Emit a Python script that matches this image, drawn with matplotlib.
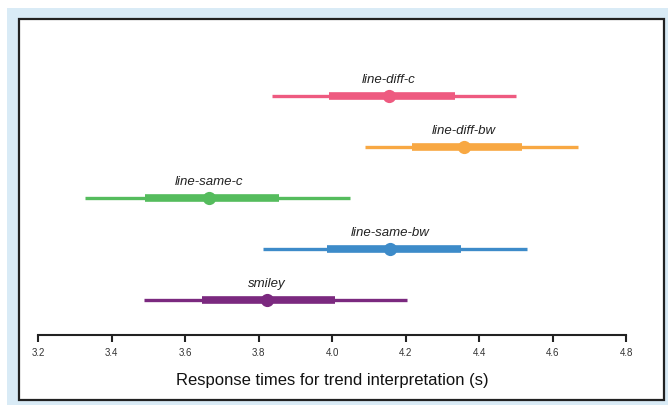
import matplotlib
matplotlib.use("Agg")
import matplotlib.pyplot as plt
from matplotlib.patches import Rectangle

plt.rcParams["font.family"] = ["Liberation Sans", "DejaVu Sans"]

conditions = ["smiley", "line-same-bw", "line-same-c", "line-diff-bw", "line-diff-c"]
means = [3.822, 4.158, 3.666, 4.358, 4.155]
inner_lo = [3.646, 3.986, 3.491, 4.217, 3.992]
inner_hi = [4.008, 4.350, 3.857, 4.516, 4.335]
outer_lo = [3.488, 3.813, 3.328, 4.089, 3.837]
outer_hi = [4.203, 4.531, 4.050, 4.669, 4.501]
colors = ["#7b297f", "#3d8bc9", "#55bc5d", "#f8a843", "#ee5a80"]
xticks = [3.2, 3.4, 3.6, 3.8, 4.0, 4.2, 4.4, 4.6, 4.8]

W, H = 668, 405
fig = plt.figure(figsize=(W / 100, H / 100), dpi=100, facecolor="white")

# light-blue frame
fig.patches.append(Rectangle((7 / W, 0), 1 - 7 / W, 1 - 8 / H, transform=fig.transFigure,
                             facecolor="#d9ebf6", edgecolor="none", zorder=-3))
# white panel with dark border
fig.patches.append(Rectangle((19 / W, 1 - 400 / H), (664 - 19) / W, (400 - 19) / H,
                             transform=fig.transFigure, facecolor="white",
                             edgecolor="#222222", linewidth=1.6, zorder=-2))

ax = fig.add_axes([38 / W, 1 - 335 / H, (626 - 38) / W, (335 - 40) / H])
ax.set_facecolor("none")

for i, name in enumerate(conditions):
    c = colors[i]
    ax.plot([outer_lo[i], outer_hi[i]], [i, i], color=c, lw=2.4, solid_capstyle="butt")
    ax.plot([inner_lo[i], inner_hi[i]], [i, i], color=c, lw=5.5, solid_capstyle="butt")
    ax.plot([means[i]], [i], "o", color=c, markersize=9.5, markeredgewidth=0)
    ax.text(means[i], i + 0.2, name, ha="center", va="bottom", fontsize=9.5,
            style="italic", color="#222222")

ax.set_xlim(3.2, 4.8)
ax.set_ylim(-0.69, 5.1)
ax.set_xticks(xticks)
ax.set_xticklabels([f"{t:.1f}" for t in xticks], fontsize=7, color="#333333")
ax.set_yticks([])
for s in ["top", "left", "right"]:
    ax.spines[s].set_visible(False)
ax.spines["bottom"].set_linewidth(1.5)
ax.spines["bottom"].set_color("#222222")
ax.tick_params(axis="x", direction="out", length=5, width=1.5, color="#222222", pad=4)
ax.set_xlabel("Response times for trend interpretation (s)", fontsize=12, labelpad=11,
              color="#111111")

fig.savefig("out.png", dpi=100, facecolor=fig.get_facecolor())
